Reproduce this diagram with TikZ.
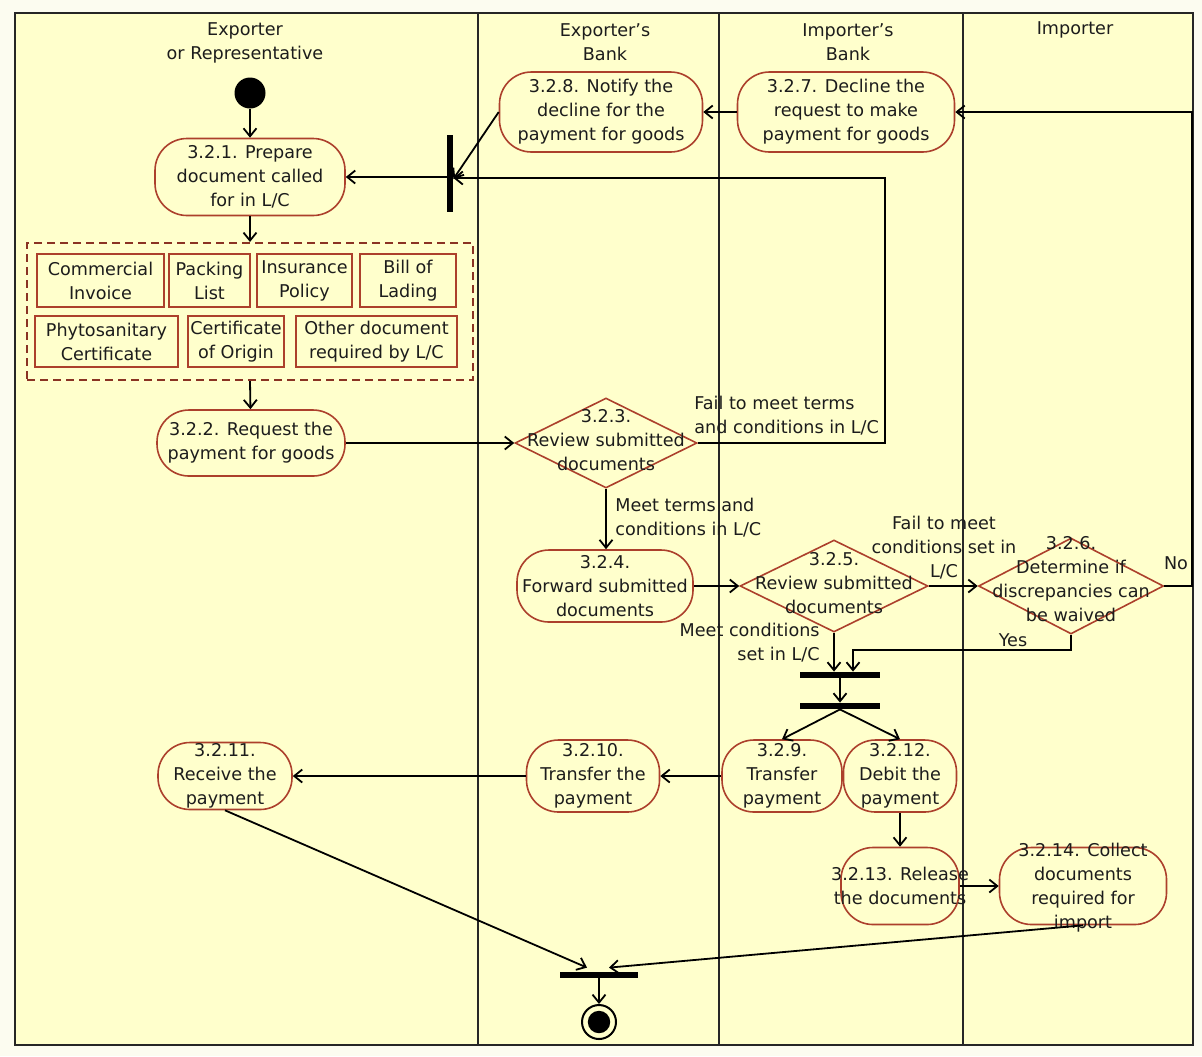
\documentclass[tikz,border=0pt]{standalone}
\usepackage{fontspec}
\setmainfont{DejaVu Sans}
\usetikzlibrary{shapes.geometric,arrows.meta,calc}
\definecolor{lanefill}{RGB}{255,255,204}
\definecolor{paper}{RGB}{252,252,240}
\definecolor{actline}{RGB}{172,64,44}
\definecolor{ink}{RGB}{28,28,28}

\begin{document}
\begin{tikzpicture}[x=0.5pt,y=-0.5pt,
  txt/.style={font=\fontsize{8.8}{12}\selectfont, text=ink, align=center, inner sep=0pt},
  act/.style={draw=actline, line width=0.8pt, fill=lanefill, rounded corners=16pt, inner sep=0pt},
  dec/.style={diamond, draw=actline, line width=0.8pt, fill=lanefill, inner sep=0pt},
  doc/.style={txt, draw=actline, line width=1pt, fill=lanefill},
  grp/.style={draw=actline!80!black, line width=1pt, dash pattern=on 4pt off 2.5pt, inner sep=0pt},
  bar/.style={fill=black, draw=none, inner sep=0pt},
  lane/.style={line width=1.2pt, draw=black!85},
  arr/.style={-{Straight Barb[length=4pt,width=6.5pt]}, line width=0.9pt, draw=black}]

% canvas and swimlanes
\fill[paper] (0,0) rectangle (1202,1056);
\fill[lanefill] (15,13) rectangle (1193,1045);
\draw[lane] (15,13) rectangle (1193,1045);
\draw[lane] (478,13) -- (478,1045);
\draw[lane] (719,13) -- (719,1045);
\draw[lane] (963,13) -- (963,1045);

% lane headers
\node[txt] (h1) at (245,43) {Exporter\\or Representative};
\node[txt] (h2) at (605,42) {Exporter's\\Bank};
\node[txt] (h3) at (848,42) {Importer's\\Bank};
\node[txt] (h4) at (1075,30) {Importer};

% start
\node[circle, fill=black, minimum size=15.5pt, inner sep=0pt] (start) at (250,93) {};

% activities
\node[act, minimum width=95pt, minimum height=38.5pt,
  label={[txt]center:{3.2.1. Prepare\\document called\\for in L/C}}] (a1) at (250,177) {};
\node[act, minimum width=101.5pt, minimum height=40pt,
  label={[txt]center:{3.2.8. Notify the\\decline for the\\payment for goods}}] (a8) at (601,112) {};
\node[act, minimum width=108.5pt, minimum height=40pt,
  label={[txt]center:{3.2.7. Decline the\\request to make\\payment for goods}}] (a7) at (846,112) {};
\node[act, minimum width=94pt, minimum height=33pt,
  label={[txt]center:{3.2.2. Request the\\payment for goods}}] (a2) at (251,443) {};
\node[act, minimum width=88pt, minimum height=36pt,
  label={[txt]center:{3.2.4.\\Forward submitted\\documents}}] (a4) at (605,586) {};
\node[act, minimum width=60pt, minimum height=36pt,
  label={[txt]center:{3.2.9.\\Transfer\\payment}}] (a9) at (782,776) {};
\node[act, minimum width=56.5pt, minimum height=36pt,
  label={[txt]center:{3.2.12.\\Debit the\\payment}}] (a12) at (900,776) {};
\node[act, minimum width=66.5pt, minimum height=36pt,
  label={[txt]center:{3.2.10.\\Transfer the\\payment}}] (a10) at (593,776) {};
\node[act, minimum width=67pt, minimum height=33.5pt,
  label={[txt]center:{3.2.11.\\Receive the\\payment}}] (a11) at (225,776) {};
\node[act, minimum width=59pt, minimum height=38.5pt,
  label={[txt]center:{3.2.13. Release\\the documents}}] (a13) at (900,886) {};
\node[act, minimum width=83.5pt, minimum height=38.5pt,
  label={[txt, yshift=-1pt]center:{3.2.14. Collect\\documents\\required for\\import}}] (a14) at (1083,886) {};

% decisions
\node[dec, minimum width=91pt, minimum height=45pt,
  label={[txt, yshift=1.5pt]center:{3.2.3.\\Review submitted\\documents}}] (d3) at (606,443) {};
\node[dec, minimum width=94pt, minimum height=46pt,
  label={[txt, yshift=1.5pt]center:{3.2.5.\\Review submitted\\documents}}] (d5) at (834,586) {};
\node[dec, minimum width=92.5pt, minimum height=48pt,
  label={[txt, yshift=3.5pt]center:{3.2.6.\\Determine if\\discrepancies can\\be waived}}] (d6) at (1071,586) {};

% documents called for in the L/C
\node[grp, minimum width=223pt, minimum height=68.5pt] (docs) at (250,311.5) {};
\node[doc, minimum width=63.5pt, minimum height=26.5pt] (c1) at (100.5,280.5) {Commercial\\Invoice};
\node[doc, minimum width=40.5pt, minimum height=26.5pt] (c2) at (209.5,280.5) {Packing\\List};
\node[doc, minimum width=47.5pt, minimum height=26.5pt] (c3) at (304.5,280.5) {Insurance\\Policy};
\node[doc, minimum width=48pt, minimum height=26.5pt] (c4) at (408,280.5) {Bill of\\Lading};
\node[doc, minimum width=71.5pt, minimum height=25.5pt] (c5) at (106.5,341.5) {Phytosanitary\\Certificate};
\node[doc, minimum width=48pt, minimum height=25.5pt] (c6) at (236,341.5) {Certificate\\of Origin};
\node[doc, minimum width=80.5pt, minimum height=25.5pt] (c7) at (376.5,341.5) {Other document\\required by L/C};

% synchronisation bars
\node[bar, minimum width=3pt, minimum height=38.5pt] (b1) at (450,173) {};
\node[bar, minimum width=40pt, minimum height=3pt] (b2) at (840,675) {};
\node[bar, minimum width=40pt, minimum height=3pt] (b3) at (840,706) {};
\node[bar, minimum width=39pt, minimum height=3pt] (b4) at (599,975) {};

% end
\node[circle, draw=black, line width=1pt, minimum size=17pt, inner sep=0pt] (end) at (599,1022) {};
\fill[black] (end.center) circle (5.6pt);

% bend points
\coordinate (k1) at (885,178);
\coordinate (k3) at (1192,112);
\coordinate (k4) at (853,650);

% flows
\draw[arr] (start) -- (a1);
\draw[arr] (a1) -- (docs.north);
\draw[arr] (docs.south) -- (a2);
\draw[arr] (a2.east) -- (d3.west);
\draw[arr] (d3.east) -| (k1) -- (k1 -| b1.east);
\draw[arr] (b1.west |- a1.east) -- (a1.east);
\draw[arr] (a8.west) -- ($(b1.east)+(0,6)$);
\draw[arr] (a7.west) -- (a8.east);
\draw[arr] (d6.east) -| (k3) -- (a7.east);
\draw[arr] (d3.south) -- (d3.south |- a4.north);
\draw[arr] (a4.east) -- (d5.west);
\draw[arr] (d5.east) -- (d6.west);
\draw[arr] (d5.south) -- (d5.south |- b2.north);
\draw[arr] (d6.south) |- (k4) -- (k4 |- b2.north);
\draw[arr] (b2.south) -- (b3.north);
\draw[arr] (b3.south) -- (a9.north);
\draw[arr] (b3.south) -- (a12.north);
\draw[arr] (a9.west) -- (a10.east);
\draw[arr] (a10.west) -- (a11.east);
\draw[arr] (a12.south) -- (a13.north);
\draw[arr] (a13.east) -- (a14.west);
\draw[arr] (a11.south) -- ($(b4.north)+(-12,-4)$);
\draw[arr] (a14.south) -- ($(b4.north)+(10,-4)$);
\draw[arr] (b4.south) -- (end.north);

% guard labels
\node[txt, align=left, anchor=west] (g1) at (694,416) {Fail to meet terms\\and conditions in L/C};
\node[txt, align=left, anchor=west] (g2) at (615,518) {Meet terms and\\conditions in L/C};
\node[txt] (g3) at (944,548) {Fail to meet\\conditions set in\\L/C};
\node[txt, align=right, anchor=east] (g4) at (820,643) {Meet conditions\\set in L/C};
\node[txt] (g5) at (1013,640) {Yes};
\node[txt] (g6) at (1176,563) {No};
\end{tikzpicture}
\end{document}
